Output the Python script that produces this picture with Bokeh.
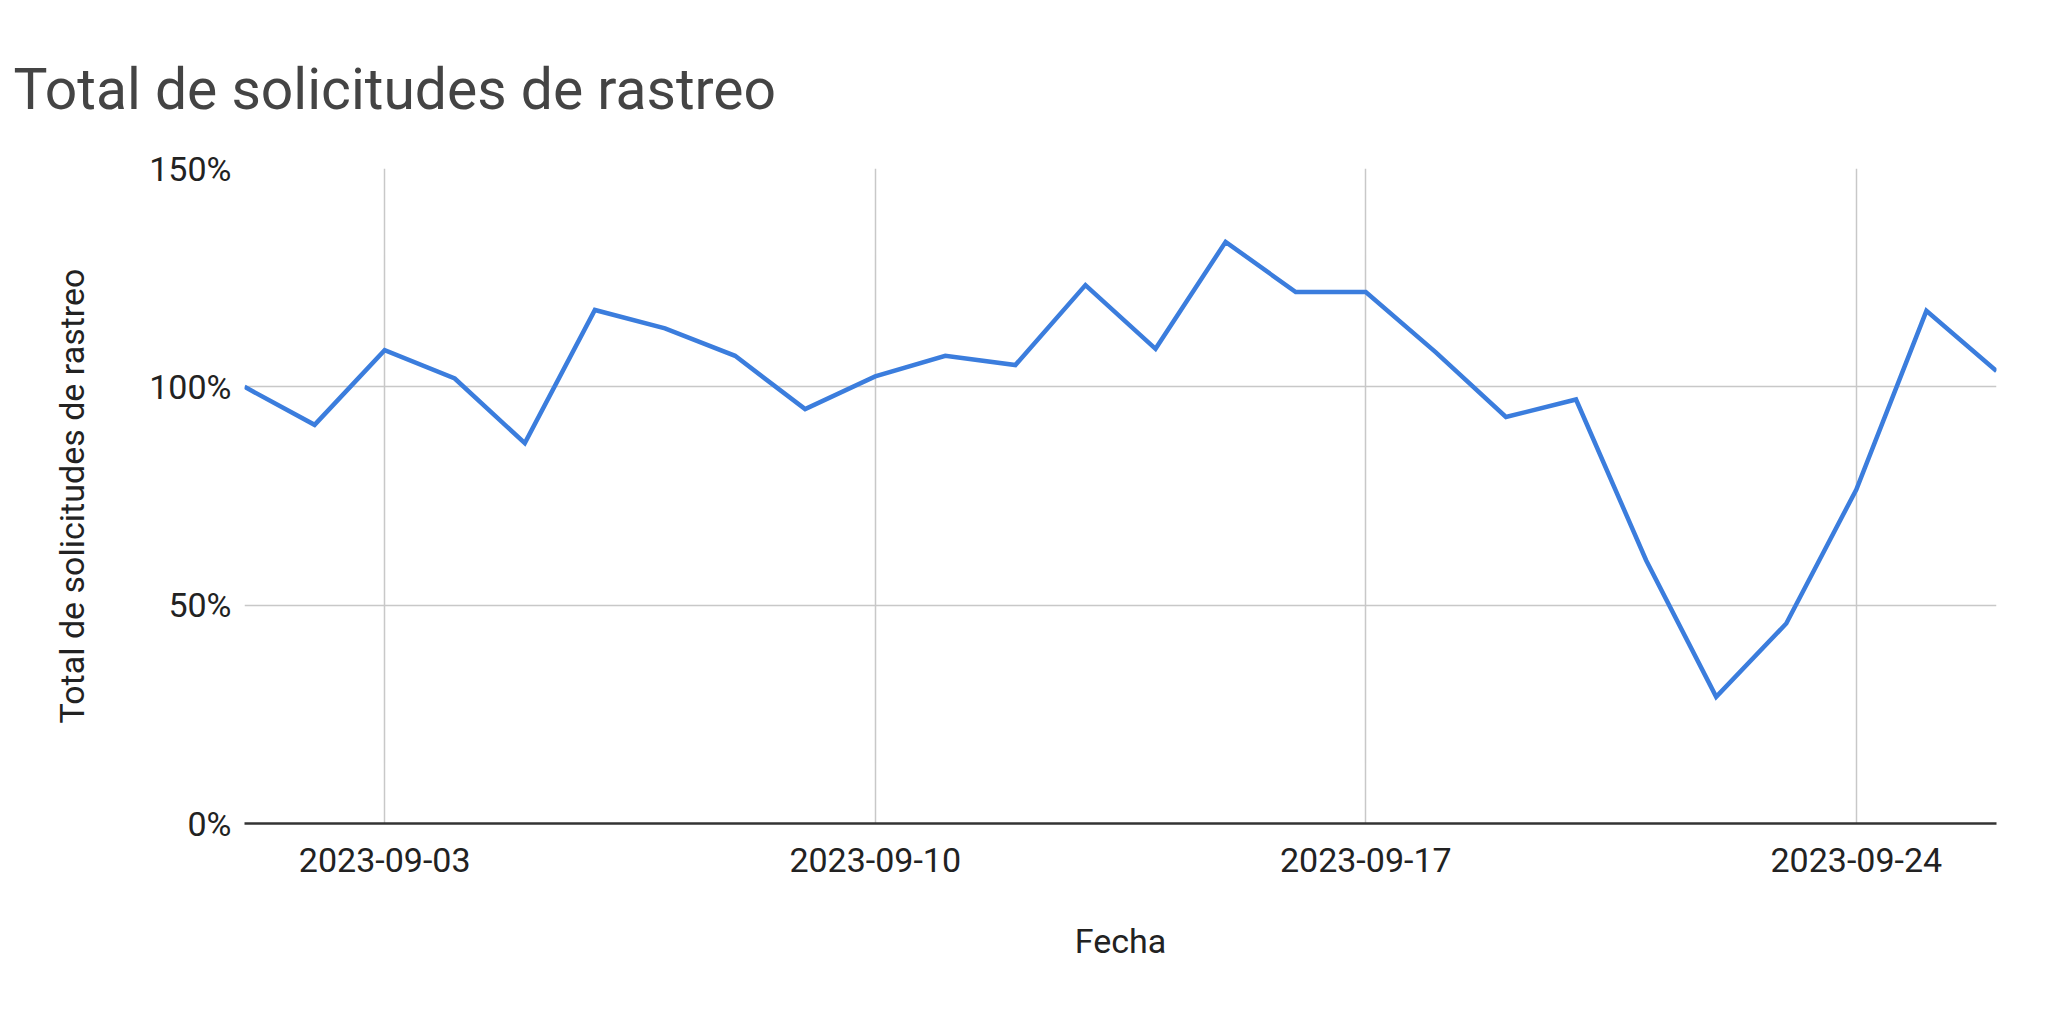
import pandas as pd
from bokeh.plotting import figure
from bokeh.models import Range1d, FixedTicker, DatetimeTickFormatter, PrintfTickFormatter
from bokeh.embed import file_html
from bokeh.resources import INLINE

# ---- data ----
fechas = ["2023-09-01", "2023-09-02", "2023-09-03", "2023-09-04", "2023-09-05",
          "2023-09-06", "2023-09-07", "2023-09-08", "2023-09-09", "2023-09-10",
          "2023-09-11", "2023-09-12", "2023-09-13", "2023-09-14", "2023-09-15",
          "2023-09-16", "2023-09-17", "2023-09-18", "2023-09-19", "2023-09-20",
          "2023-09-21", "2023-09-22", "2023-09-23", "2023-09-24", "2023-09-25",
          "2023-09-26"]
solicitudes = [100, 91.3, 108.4, 101.9, 87.1, 117.6, 113.4, 107.1, 94.9, 102.4,
               107.1, 105.0, 123.3, 108.7, 133.2, 121.7, 121.7, 107.9, 93.1, 97.1,
               60.3, 29.0, 45.8, 76.5, 117.4, 103.6]
x_ticks = ["2023-09-03", "2023-09-10", "2023-09-17", "2023-09-24"]
y_ticks = [0, 50, 100, 150]

titulo = "Total de solicitudes de rastreo"
x_label = "Fecha"
y_label = "Total de solicitudes de rastreo"

x = pd.to_datetime(fechas)
FONT = "Roboto"

p = figure(width=2032, height=1000, output_backend="svg", toolbar_location=None,
           x_axis_type="datetime",
           x_range=Range1d(x[0], x[-1]), y_range=Range1d(0, 150),
           min_border_left=244, min_border_right=36, min_border_top=168,
           min_border_bottom=177)
p.outline_line_color = None
p.background_fill_color = "white"
p.border_fill_color = "white"

p.line(x, solicitudes, line_color="#3b7ddd", line_width=4.5, line_join="miter")

# title
p.title.text = titulo
p.title.text_font = FONT
p.title.text_font_size = "57px"
p.title.text_font_style = "normal"
p.title.text_color = "#444444"
p.title.align = "left"
p.title.offset = -231
p.title.standoff = 91

# x axis
tick_ms = [pd.Timestamp(t).value / 1e6 for t in x_ticks]
p.xaxis.ticker = FixedTicker(ticks=tick_ms)
p.xaxis.formatter = DatetimeTickFormatter(days="%Y-%m-%d", months="%Y-%m-%d")
p.xaxis.axis_line_color = "#333333"
p.xaxis.axis_line_width = 2.5
p.xaxis.major_tick_line_color = None
p.xaxis.minor_tick_line_color = None
p.xaxis.major_label_text_font = FONT
p.xaxis.major_label_text_font_size = "34px"
p.xaxis.major_label_text_color = "#222222"
p.xaxis.major_label_standoff = 18
p.xaxis.axis_label = x_label
p.xaxis.axis_label_text_font = FONT
p.xaxis.axis_label_text_font_size = "34px"
p.xaxis.axis_label_text_font_style = "normal"
p.xaxis.axis_label_text_color = "#222222"
p.xaxis.axis_label_standoff = 46

# y axis
p.yaxis.ticker = FixedTicker(ticks=y_ticks)
p.yaxis.formatter = PrintfTickFormatter(format="%d%%")
p.yaxis.axis_line_color = None
p.yaxis.major_tick_line_color = None
p.yaxis.minor_tick_line_color = None
p.yaxis.major_label_text_font = FONT
p.yaxis.major_label_text_font_size = "34px"
p.yaxis.major_label_text_color = "#222222"
p.yaxis.major_label_standoff = 7
p.yaxis.axis_label = y_label
p.yaxis.axis_label_text_font = FONT
p.yaxis.axis_label_text_font_size = "34px"
p.yaxis.axis_label_text_font_style = "normal"
p.yaxis.axis_label_text_color = "#222222"
p.yaxis.axis_label_standoff = 54

# grids
p.xgrid.ticker = p.xaxis.ticker
p.ygrid.ticker = p.yaxis.ticker
p.xgrid.grid_line_color = "#c8c8c8"
p.ygrid.grid_line_color = "#c8c8c8"
p.xgrid.grid_line_width = 1.5
p.ygrid.grid_line_width = 1.5

open("out.html", "w").write(file_html(p, INLINE))
